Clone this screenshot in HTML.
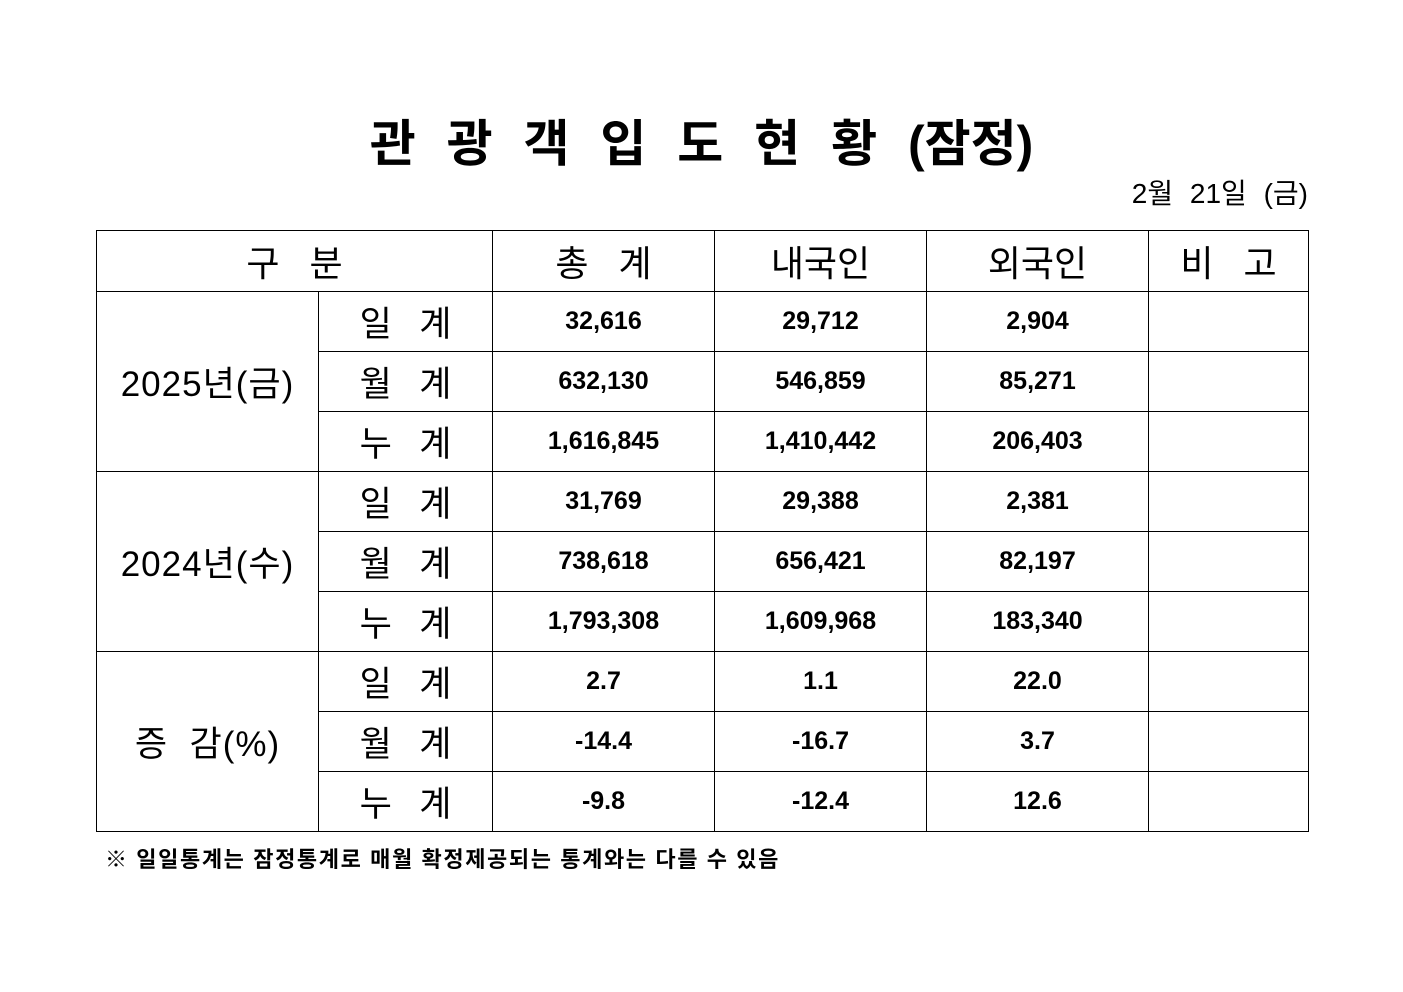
<!DOCTYPE html>
<html><head><meta charset="utf-8"><style>
body{margin:0;width:1403px;height:992px;background:#fff;font-family:"Liberation Sans","Noto Sans CJK KR","NanumGothic",sans-serif;color:#000;position:relative;overflow:hidden}
.title{position:absolute;top:112px;left:0;width:1403px;text-align:center;font-size:50px;font-weight:bold;word-spacing:17px;line-height:64px}
.date{position:absolute;top:176px;right:95px;font-size:28px;line-height:36px;word-spacing:9px}
table{position:absolute;left:96px;top:230px;border-collapse:collapse;table-layout:fixed}
td{border:1px solid #000;padding:0;text-align:center;height:59px;font-size:25px;font-weight:bold}
tr.h td{height:60px;font-size:36px;font-weight:normal}
td.l{font-size:35px;font-weight:normal;word-spacing:4px}
td.g{font-size:35px;font-weight:normal;letter-spacing:1px}
.note{position:absolute;left:105px;top:842px;font-size:22px;font-weight:bold;letter-spacing:1.6px}
</style></head><body>
<div class="title">관 광 객 입 도 현 황 (잠정)</div>
<div class="date">2월 21일 (금)</div>
<table>
<colgroup><col style="width:222px"><col style="width:174px"><col style="width:222px"><col style="width:212px"><col style="width:222px"><col style="width:160px"></colgroup>
<tr class="h"><td colspan="2">구 &nbsp; 분</td><td>총 &nbsp; 계</td><td>내국인</td><td>외국인</td><td>비 &nbsp; 고</td></tr>
<tr><td rowspan="3" class="g">2025년(금)</td><td class="l">일 &nbsp;계</td><td>32,616</td><td>29,712</td><td>2,904</td><td></td></tr>
<tr><td class="l">월 &nbsp;계</td><td>632,130</td><td>546,859</td><td>85,271</td><td></td></tr>
<tr><td class="l">누 &nbsp;계</td><td>1,616,845</td><td>1,410,442</td><td>206,403</td><td></td></tr>
<tr><td rowspan="3" class="g">2024년(수)</td><td class="l">일 &nbsp;계</td><td>31,769</td><td>29,388</td><td>2,381</td><td></td></tr>
<tr><td class="l">월 &nbsp;계</td><td>738,618</td><td>656,421</td><td>82,197</td><td></td></tr>
<tr><td class="l">누 &nbsp;계</td><td>1,793,308</td><td>1,609,968</td><td>183,340</td><td></td></tr>
<tr><td rowspan="3" class="g">증 &nbsp;감(%)</td><td class="l">일 &nbsp;계</td><td>2.7</td><td>1.1</td><td>22.0</td><td></td></tr>
<tr><td class="l">월 &nbsp;계</td><td>-14.4</td><td>-16.7</td><td>3.7</td><td></td></tr>
<tr><td class="l">누 &nbsp;계</td><td>-9.8</td><td>-12.4</td><td>12.6</td><td></td></tr>
</table>
<div class="note">※ 일일통계는 잠정통계로 매월 확정제공되는 통계와는 다를 수 있음</div>
</body></html>
